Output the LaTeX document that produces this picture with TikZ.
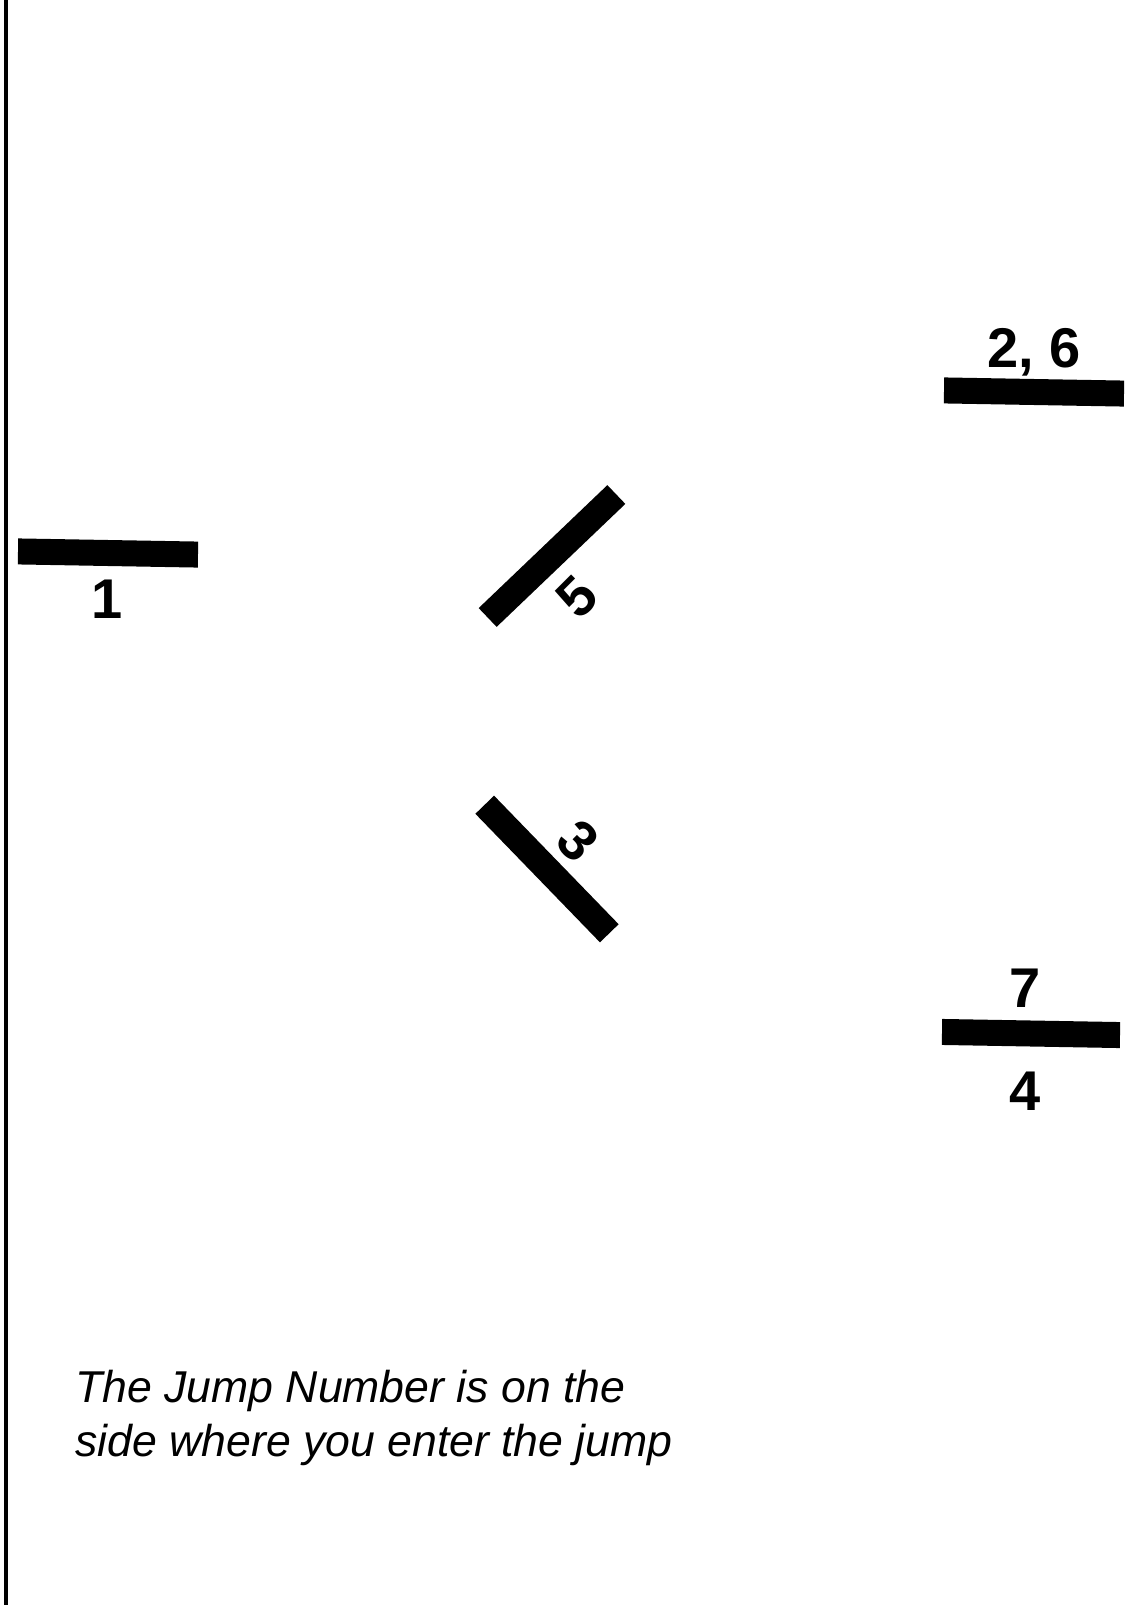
\documentclass[tikz,border=0pt]{standalone}
\usepackage{fontspec}
\setmainfont{Liberation Sans}
\newfontfamily\numfont[Scale=1]{Liberation Sans}
\begin{document}
\begin{tikzpicture}[x=1pt,y=-1pt,
  bar/.style={fill=black,draw=none,minimum width=180pt,minimum height=26pt,inner sep=0pt,outer sep=0pt},
  num/.style={font=\numfont\bfseries\fontsize{56}{60}\selectfont,inner sep=0pt,text=black},
  note/.style={font=\itshape\fontsize{44.6}{50}\selectfont,inner sep=0pt,anchor=base west}]
\useasboundingbox (0,0) rectangle (1132,1605);
\fill[white] (0,0) rectangle (1132,1605);
% left border line
\coordinate (ltop) at (6,0);
\coordinate (lbot) at (6,1605);
\draw[line width=4.5pt] (ltop) -- (lbot);
% jumps
\node[bar,rotate=-1] (b1) at (108,553) {};
\node[bar,rotate=-1] (b26) at (1034,392) {};
\node[bar,rotate=-1,minimum width=178pt] (b74) at (1031,1033.5) {};
\node[bar,rotate=43.7,minimum width=178pt] (b5) at (552,556) {};
\node[bar,rotate=-45.9,minimum width=179pt] (b3) at (547,869) {};
% numbers
\node[num,anchor=base] (n1) at (107,618) {1};
\node[num,anchor=base] (n26) at (1034,367) {2, 6};
\node[num,anchor=base] (n7) at (1025,1007) {7};
\node[num,anchor=base] (n4) at (1025,1110) {4};
\node[num,rotate=45] (n5) at (577,597) {5};
\node[num,rotate=-45] (n3) at (578,841) {3};
% note
\node[note] (t1) at (75,1402) {The Jump Number is on the};
\node[note] (t2) at (75,1456) {side where you enter the jump};
\end{tikzpicture}
\end{document}
